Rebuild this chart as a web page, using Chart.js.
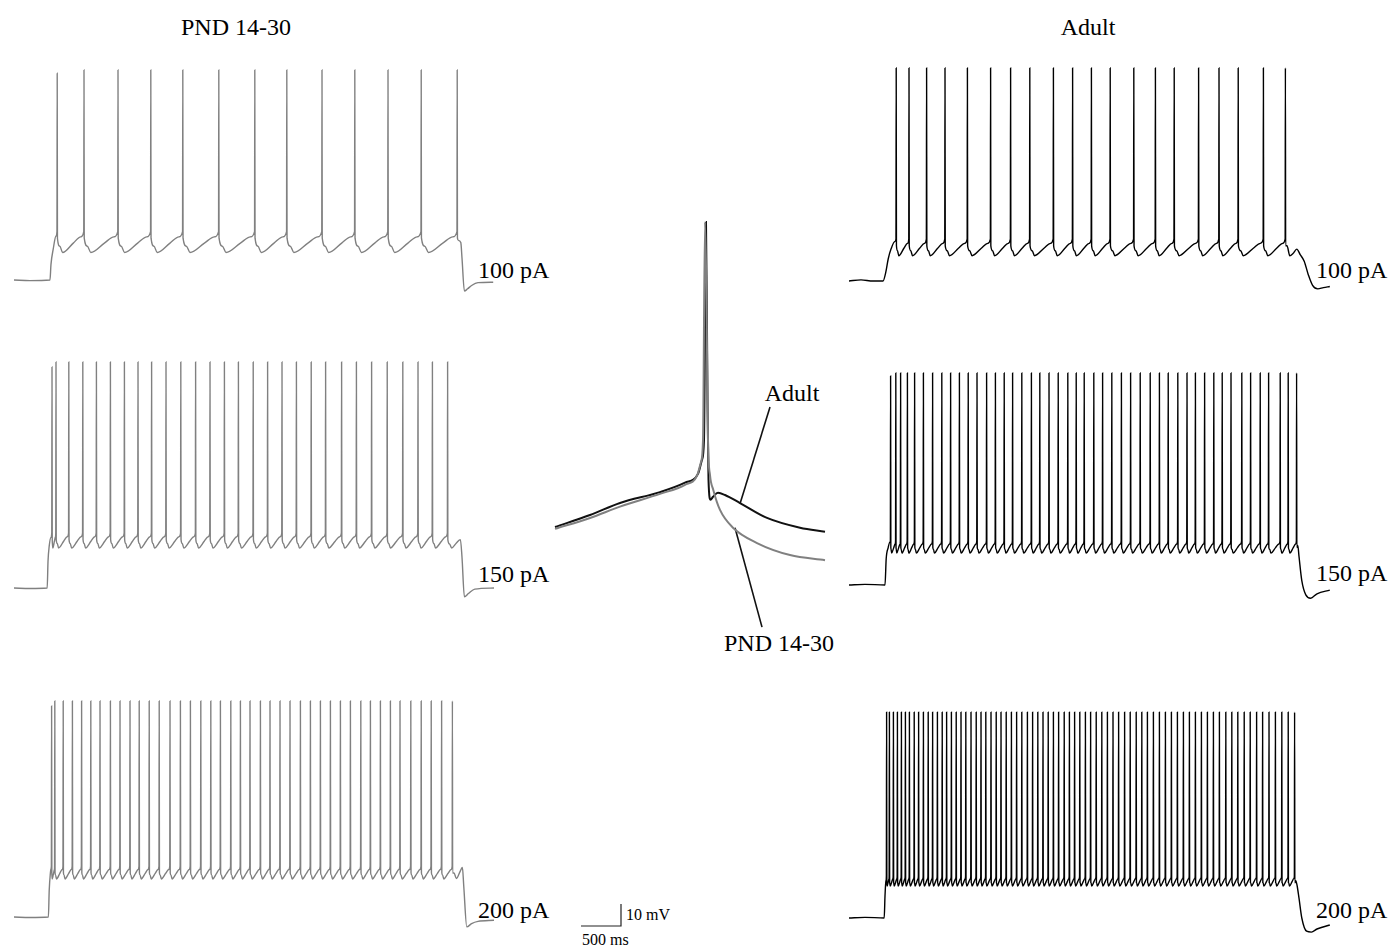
<!DOCTYPE html>
<html>
<head>
<meta charset="utf-8">
<script src="https://cdn.jsdelivr.net/npm/chart.js@4.4.1/dist/chart.umd.min.js"></script>
<style>
  html, body { margin: 0; padding: 0; background: #fff; }
  #page { position: relative; width: 1391px; height: 945px; overflow: hidden; background: #fff; }
  canvas { position: absolute; }
  .lbl { position: absolute; font-family: "Liberation Serif", "Times New Roman", serif; color: #000; white-space: nowrap; line-height: 1; }
  .big { font-size: 24px; }
  .small { font-size: 16px; }
</style>
</head>
<body>
<div id="page">
  <div class="lbl big" style="left:136px;top:15px;width:200px;text-align:center;">PND 14-30</div>
  <div class="lbl big" style="left:988px;top:15px;width:200px;text-align:center;">Adult</div>
  <div class="lbl big" style="left:478px;top:258px;">100 pA</div>
  <div class="lbl big" style="left:478px;top:562px;">150 pA</div>
  <div class="lbl big" style="left:478px;top:898px;">200 pA</div>
  <div class="lbl big" style="left:1316px;top:258px;">100 pA</div>
  <div class="lbl big" style="left:1316px;top:561px;">150 pA</div>
  <div class="lbl big" style="left:1316px;top:898px;">200 pA</div>
  <div class="lbl big" style="left:692px;top:381px;width:200px;text-align:center;">Adult</div>
  <div class="lbl big" style="left:679px;top:631px;width:200px;text-align:center;">PND 14-30</div>
  <div class="lbl small" style="left:626px;top:907px;">10 mV</div>
  <div class="lbl small" style="left:582px;top:932px;">500 ms</div>
</div>
<script>
// ---------------- DATA (time in ms from trace start, voltage in mV) ----------------
// spike times
const pnd100Spikes = [540, 875, 1300, 1710, 2110, 2560, 3010, 3410, 3850, 4260, 4675, 5090, 5540];
const pnd150Spikes = [475, 525, 685, 860, 1030, 1205, 1380, 1550, 1720, 1900, 2085, 2270, 2450, 2630, 2805, 2990, 3170, 3350, 3530, 3715, 3895, 4095, 4280, 4470, 4665, 4860, 5050, 5230, 5420];
const pnd200Spikes = [470, 510, 615, 730, 845, 960, 1075, 1205, 1325, 1450, 1565, 1690, 1815, 1950, 2080, 2205, 2335, 2460, 2580, 2710, 2830, 2950, 3080, 3200, 3325, 3450, 3580, 3705, 3830, 3955, 4080, 4205, 4335, 4455, 4580, 4705, 4825, 4960, 5090, 5215, 5345, 5480];
const adult100Spikes = [590, 750, 970, 1200, 1480, 1770, 2020, 2260, 2555, 2795, 3030, 3265, 3560, 3830, 4065, 4370, 4625, 4865, 5180, 5455];
const adult150Spikes = [520, 585, 645, 730, 820, 930, 1045, 1160, 1270, 1380, 1490, 1600, 1720, 1830, 1940, 2045, 2160, 2280, 2385, 2500, 2615, 2735, 2840, 2940, 3060, 3170, 3285, 3405, 3520, 3640, 3765, 3880, 3990, 4110, 4225, 4330, 4445, 4560, 4665, 4775, 4910, 5020, 5140, 5245, 5390, 5490, 5595];
const adult200Spikes = [470, 505, 555, 605, 655, 705, 755, 815, 870, 930, 990, 1045, 1105, 1165, 1220, 1280, 1340, 1400, 1460, 1525, 1590, 1650, 1710, 1775, 1840, 1900, 1965, 2030, 2095, 2160, 2230, 2295, 2360, 2425, 2490, 2555, 2620, 2690, 2755, 2820, 2885, 2955, 3020, 3090, 3160, 3230, 3300, 3370, 3445, 3515, 3590, 3660, 3730, 3805, 3880, 3955, 4030, 4105, 4180, 4255, 4330, 4405, 4480, 4555, 4630, 4710, 4785, 4860, 4940, 5015, 5095, 5170, 5250, 5330, 5410, 5490, 5570];

// levels: [rest, AHP trough, spike threshold, spike peak, first spike peak]
const pnd100Levels = [-70, -57.5, -48, 25.5, 24];
const pnd150Levels = [-70, -51.8, -45, 32.7, 30.5];
const pnd200Levels = [-70, -52.7, -47, 28.2, 25.9];
const adult100Levels = [-70, -58.5, -51, 26.8, 26.8];
const adult150Levels = [-70, -55.5, -50, 26.4, 25];
const adult200Levels = [-70, -55.5, -51, 23.6, 23.6];

// baseline and step-onset samples [ms, mV]
const pnd100Onset = [[0, -70], [200, -70.3], [450, -70], [462, -63], [490, -56], [525, -50]];
const pnd150Onset = [[0, -70], [200, -70.2], [415, -70], [425, -58], [440, -51], [462, -47]];
const pnd200Onset = [[0, -70], [200, -70.2], [430, -70], [440, -58], [455, -50], [462, -48]];
const adult100Onset = [[0, -70], [150, -69.5], [300, -70], [425, -70], [460, -66], [490, -60], [525, -55.5], [575, -52]];
const adult150Onset = [[0, -70], [200, -69.7], [450, -70], [465, -58], [490, -53], [510, -50.5]];
const adult200Onset = [[0, -70], [200, -69.7], [440, -70], [450, -60], [462, -53]];

// step-offset samples [ms, mV]
const pnd100Offset = [[5555, -52], [5585, -53], [5600, -60], [5630, -75], [5670, -74], [5720, -72.5], [5800, -71.2], [5990, -71]];
const pnd150Offset = [[5445, -50], [5470, -51.8], [5530, -49.5], [5580, -48], [5600, -56], [5630, -74], [5680, -72.5], [5760, -70.5], [6000, -70]];
const pnd200Offset = [[5500, -50], [5530, -52.5], [5580, -49], [5605, -47.5], [5622, -56], [5660, -74.5], [5720, -73], [5800, -72], [6000, -71.5]];
const adult100Offset = [[5475, -54], [5510, -58.5], [5550, -57.5], [5597, -55.5], [5640, -58], [5690, -61], [5740, -67], [5795, -72], [5860, -73.6], [5930, -73], [6010, -72.5]];
const adult150Offset = [[5610, -52], [5625, -57], [5660, -68], [5710, -74.5], [5770, -76], [5850, -74], [6010, -72.3]];
const adult200Offset = [[5585, -53], [5600, -55], [5625, -61], [5660, -70], [5720, -76], [5780, -76.4], [5850, -75], [6010, -73.2]];

// centre overlay: single action potential, [ms, mV]
const adultAP = [[0.5, -53.8], [4, -50.5], [7, -47.2], [11, -44.2], [13.5, -41.6], [14.8, -39.2], [15.2, -35.3], [15.4, -29.9], [15.6, 30], [15.75, -18.9], [15.85, -40.8], [16.05, -46.3], [16.3, -45.5], [16.8, -44.4], [17.5, -45], [19, -47.2], [21.7, -51.3], [25, -54], [27.5, -55.1]];
const pndAP = [[0.5, -54.3], [4, -51.3], [7, -48.2], [11, -44.7], [13.5, -42.2], [14.7, -39.7], [15.1, -35.9], [15.3, -29.9], [15.5, 30], [15.65, 8.6], [15.8, -29.9], [16.0, -39.5], [16.33, -43.6], [17.0, -49.1], [18.3, -54], [20.7, -58.2], [24, -61.5], [27.5, -62.9]];
const adultPointer = [[22.0, -20.8], [19.0, -47.4]];
const pndPointer = [[18.5, -54], [21.2, -81.3]];

// scale bar: 500 ms, 10 mV
const scaleBar = [[0, 0], [500, 0], [500, 10]];

// ---------------- DRAWING ----------------
const MS_PER_PX = 12.5;
const PX_PER_MV = 2.2;
const GRAY = '#808080';
const BLACK = '#000000';

function buildTrace(spikes, lv, onset, offset) {
  const [rest, trough, thr, peak, firstPeak] = lv;
  const pts = onset.map(p => ({ x: p[0], y: p[1] }));
  for (let i = 0; i < spikes.length; i++) {
    const t = spikes[i];
    const pk = i === 0 ? firstPeak : peak;
    pts.push({ x: t - 3, y: thr });
    pts.push({ x: t, y: pk });
    pts.push({ x: t + 3, y: thr - 3 });
    if (i < spikes.length - 1) {
      const g = spikes[i + 1] - t;
      const d = thr - trough;
      pts.push({ x: t + 0.1 * g, y: trough + 0.3 * d });
      pts.push({ x: t + 0.2 * g, y: trough });
      pts.push({ x: t + 0.6 * g, y: trough + 0.45 * d });
      pts.push({ x: t + 0.88 * g, y: trough + 0.75 * d });
    }
  }
  offset.forEach(p => pts.push({ x: p[0], y: p[1] }));
  return pts;
}

function addCanvas(L) {
  const c = document.createElement('canvas');
  c.width = L.width; c.height = L.height;
  c.style.left = L.left + 'px'; c.style.top = L.top + 'px';
  c.style.width = L.width + 'px'; c.style.height = L.height + 'px';
  document.getElementById('page').appendChild(c);
  return c;
}

function baseOptions(xmin, xmax, ymin, ymax) {
  return {
    responsive: false, animation: false, events: [], devicePixelRatio: 1,
    layout: { padding: 0 },
    plugins: { legend: { display: false }, tooltip: { enabled: false } },
    elements: { point: { radius: 0 } },
    scales: {
      x: { type: 'linear', display: false, min: xmin, max: xmax },
      y: { type: 'linear', display: false, min: ymin, max: ymax }
    }
  };
}

function tracePanel(L, spikes, lv, onset, offset, color) {
  const c = addCanvas(L);
  const xmin = -(L.zeroPx - L.left) * MS_PER_PX;
  const xmax = xmin + L.width * MS_PER_PX;
  const ymax = lv[0] + (L.restPx - L.top) / PX_PER_MV;
  const ymin = ymax - L.height / PX_PER_MV;
  new Chart(c, {
    type: 'line',
    data: { datasets: [{ data: buildTrace(spikes, lv, onset, offset), borderColor: color, borderWidth: 1.4, cubicInterpolationMode: 'monotone', pointRadius: 0, fill: false, clip: false }] },
    options: baseOptions(xmin, xmax, ymin, ymax)
  });
}

tracePanel({ left: 8, top: 50, width: 500, height: 260, zeroPx: 14, restPx: 280 }, pnd100Spikes, pnd100Levels, pnd100Onset, pnd100Offset, GRAY);
tracePanel({ left: 8, top: 345, width: 500, height: 270, zeroPx: 14, restPx: 588 }, pnd150Spikes, pnd150Levels, pnd150Onset, pnd150Offset, GRAY);
tracePanel({ left: 8, top: 680, width: 500, height: 262, zeroPx: 14, restPx: 917 }, pnd200Spikes, pnd200Levels, pnd200Onset, pnd200Offset, GRAY);
tracePanel({ left: 843, top: 50, width: 500, height: 260, zeroPx: 849, restPx: 281 }, adult100Spikes, adult100Levels, adult100Onset, adult100Offset, BLACK);
tracePanel({ left: 843, top: 355, width: 500, height: 260, zeroPx: 849, restPx: 585 }, adult150Spikes, adult150Levels, adult150Onset, adult150Offset, BLACK);
tracePanel({ left: 843, top: 695, width: 500, height: 247, zeroPx: 849, restPx: 918 }, adult200Spikes, adult200Levels, adult200Onset, adult200Offset, BLACK);

// centre overlay panel (own, expanded scales)
(function () {
  const L = { left: 550, top: 210, width: 290, height: 460 };
  const c = addCanvas(L);
  const msPerPx = 0.1, pxPerMv = 3.64;
  const xmin = 0, xmax = L.width * msPerPx;
  const ymax = 30 + (222 - L.top) / pxPerMv;
  const ymin = ymax - L.height / pxPerMv;
  const toPts = a => a.map(p => ({ x: p[0], y: p[1] }));
  new Chart(c, {
    type: 'line',
    data: { datasets: [
      { data: toPts(pndAP), borderColor: GRAY, borderWidth: 2, cubicInterpolationMode: 'monotone', order: 0, clip: false },
      { data: toPts(adultAP), borderColor: '#111', borderWidth: 2, cubicInterpolationMode: 'monotone', order: 1, clip: false },
      { data: toPts(adultPointer), borderColor: '#111', borderWidth: 1.6, tension: 0, order: 2, clip: false },
      { data: toPts(pndPointer), borderColor: '#111', borderWidth: 1.6, tension: 0, order: 2, clip: false }
    ] },
    options: baseOptions(xmin, xmax, ymin, ymax)
  });
})();

// scale bar, same calibration as the traces
(function () {
  const L = { left: 575, top: 895, width: 60, height: 40, zeroPx: 581, zeroPy: 926 };
  const c = addCanvas(L);
  const xmin = -(L.zeroPx - L.left) * MS_PER_PX;
  const xmax = xmin + L.width * MS_PER_PX;
  const ymax = (L.zeroPy - L.top) / PX_PER_MV;
  const ymin = ymax - L.height / PX_PER_MV;
  new Chart(c, {
    type: 'line',
    data: { datasets: [{ data: scaleBar.map(p => ({ x: p[0], y: p[1] })), borderColor: '#222', borderWidth: 1.2, tension: 0, clip: false }] },
    options: baseOptions(xmin, xmax, ymin, ymax)
  });
})();
</script>
</body>
</html>
